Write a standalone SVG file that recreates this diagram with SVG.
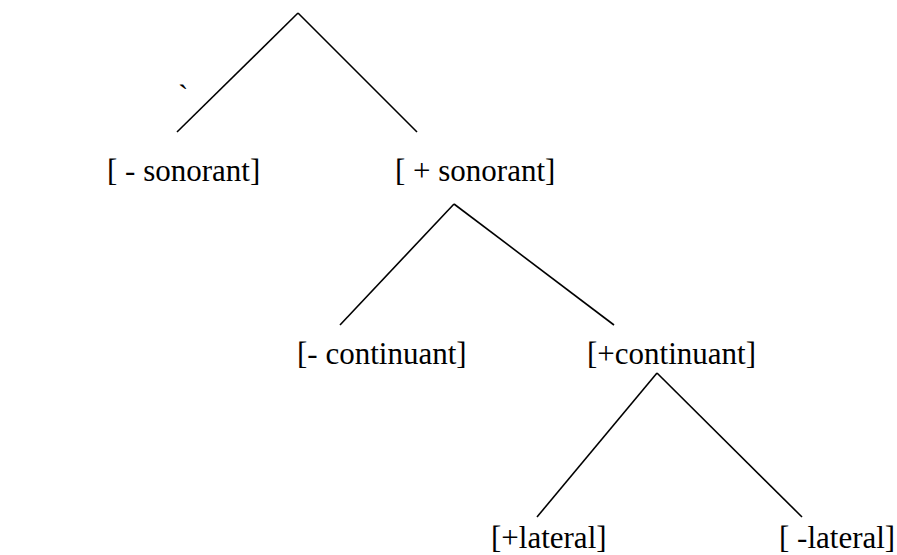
<svg xmlns="http://www.w3.org/2000/svg" width="897" height="555" viewBox="0 0 897 555">
<style>
.c line{stroke:#000;stroke-width:1.6;fill:none}
</style>
<defs>
<g id="unused"/>
</defs>
<rect width="897" height="555" fill="#fff"/>
<g class="c" id="connectors">
<line x1="298" y1="13" x2="177" y2="132"/>
<line x1="298" y1="13" x2="417" y2="132"/>
<line x1="454" y1="204" x2="340" y2="325"/>
<line x1="454" y1="204" x2="614" y2="325"/>
<line x1="657" y1="373" x2="537" y2="517"/>
<line x1="657" y1="373" x2="802" y2="517"/>
</g>
<g font-family="Liberation Serif, Times New Roman, serif" font-size="31" fill="#000">
<g id="mark"><text x="178" y="106">`</text></g>
<g id="n-sonorant"><text x="107" y="181">[ - sonorant]</text></g>
<g id="p-sonorant"><text x="395" y="181">[ + sonorant]</text></g>
<g id="n-continuant"><text x="297" y="364">[- continuant]</text></g>
<g id="p-continuant"><text x="587" y="364">[+continuant]</text></g>
<g id="p-lateral"><text x="491" y="548">[+lateral]</text></g>
<g id="n-lateral"><text x="779" y="548">[ -lateral]</text></g>
</g>
</svg>
